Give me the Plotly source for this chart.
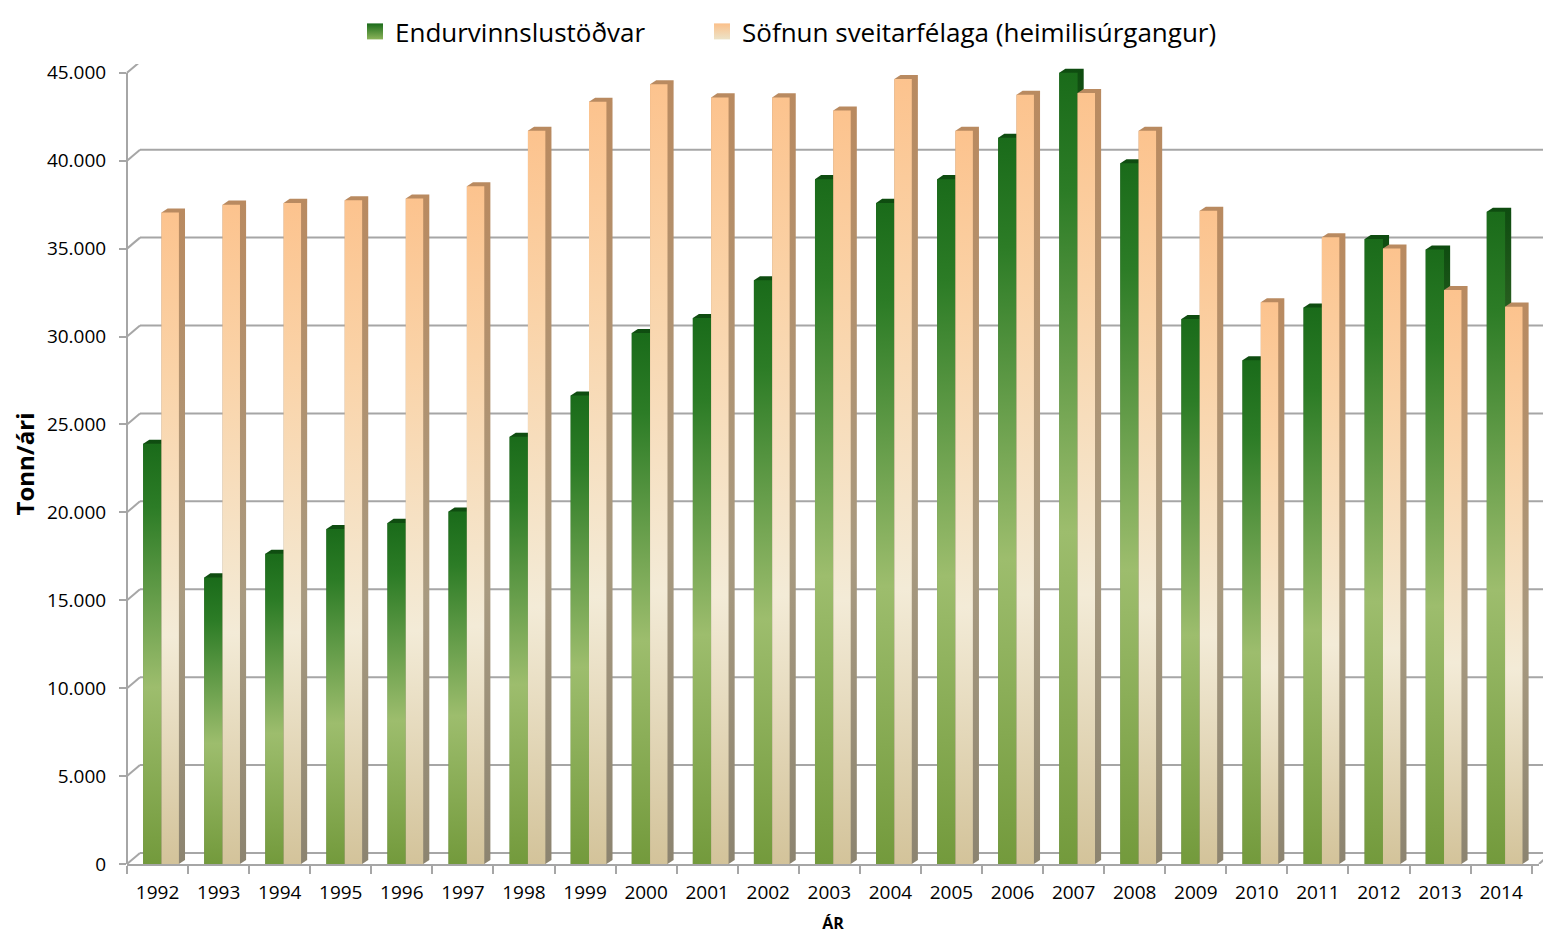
import plotly.graph_objects as go

years = [str(y) for y in range(1992, 2015)]
endurvinnslustodvar = [23900, 16300, 17650, 19050, 19400, 20050, 24300, 26650, 30200, 31050,
                       33200, 38950, 37600, 38950, 41300, 45000, 39850, 31000, 28650, 31650,
                       35550, 34950, 37100]
sofnun = [37050, 37500, 37600, 37750, 37850, 38550, 41700, 43350, 44350, 43600,
          43600, 42850, 44650, 41700, 43750, 43850, 41700, 37150, 31950, 35650,
          35000, 32650, 31700]
series_names = ["Endurvinnslustöðvar", "Söfnun sveitarfélaga (heimilisúrgangur)"]
y_ticks = list(range(0, 45001, 5000))
y_ticktext = [f"{v:,}".replace(",", ".") for v in y_ticks]

# ---- styling ----
green_front = [[0, "#739a3c"], [0.42, "#9dbd6d"], [0.85, "#2c7c26"], [1, "#1a6b1a"]]
green_side = [[0, "#587a2c"], [0.42, "#6f9048"], [1, "#0e4c10"]]
orange_front = [[0, "#d3c39a"], [0.35, "#f3ebd7"], [0.75, "#fad3a8"], [1, "#fcc38e"]]
orange_side = [[0, "#8c8470"], [0.4, "#a89a80"], [1, "#b98a60"]]
grid_col = "#a6a6a6"

g0, g1, o1 = -0.235, 0.065, 0.35
dx, dy = 0.1, 230

W, H = 1543, 926            # page body has an 8px margin
ML, MR, MT, MB = 119, 12, 56, 70
PW, PH = W - ML - MR, H - MT - MB
Y_TOP = 45500               # small headroom so the tallest bar's top face is not clipped
PLOT_LEFT, PLOT_TOP = 8 + ML, 8 + MT
wall_dx, wall_dy = 13, 11   # 3D back-wall offset in pixels
wall_end = 1 + 12 / PW

fig = go.Figure()

# legend entries (gradient squares), each in its own legend for spacing
fig.add_trace(go.Scatter(x=[None], y=[None], mode="markers", name=series_names[0],
                         legend="legend",
                         marker=dict(symbol="square", size=16, color="#1a6b1a",
                                     gradient=dict(type="vertical", color="#8cb45a"))))
fig.add_trace(go.Scatter(x=[None], y=[None], mode="markers", name=series_names[1],
                         legend="legend2",
                         marker=dict(symbol="square", size=16, color="#fbc08a",
                                     gradient=dict(type="vertical", color="#ece3c8"))))


def add_bar(xc, left, right, val, front_cs, side_cs, name):
    x0, x1 = xc + left, xc + right
    # side + top shell
    fig.add_trace(go.Scatter(
        x=[x0, x0 + dx, x1 + dx, x1 + dx, x1, x0, x0],
        y=[val, val + dy, val + dy, dy, 0, 0, val],
        mode="none", fill="toself",
        fillgradient=dict(type="vertical", colorscale=side_cs),
        showlegend=False, hoverinfo="skip", cliponaxis=False))
    # front face
    fig.add_trace(go.Scatter(
        x=[x0, x1, x1, x0, x0], y=[0, 0, val, val, 0],
        mode="none", fill="toself",
        fillgradient=dict(type="vertical", colorscale=front_cs),
        name=name, showlegend=False, cliponaxis=False,
        hoveron="fills", text=f"{name}: {val}", hoverinfo="text"))


for i, yr in enumerate(years):
    add_bar(i, g0, g1, endurvinnslustodvar[i], green_front, green_side, series_names[0])
    add_bar(i, g1, o1, sofnun[i], orange_front, orange_side, series_names[1])

# 3D-style back-wall gridlines with slanted connectors
shapes = []
for v in y_ticks:
    shapes.append(dict(type="line", xref="paper", yref="y", ysizemode="pixel", yanchor=v,
                       x0=wall_dx / PW, x1=wall_end, y0=wall_dy, y1=wall_dy,
                       line=dict(color=grid_col, width=2), layer="below"))
    shapes.append(dict(type="line", xref="paper", yref="y", ysizemode="pixel", yanchor=v,
                       x0=0, x1=wall_dx / PW, y0=0, y1=wall_dy,
                       line=dict(color=grid_col, width=2), layer="below"))
shapes.append(dict(type="line", xref="paper", yref="y", ysizemode="pixel", yanchor=0,
                   x0=1, x1=wall_end, y0=0, y1=wall_dy,
                   line=dict(color=grid_col, width=2), layer="below"))
# front vertical axis line (0 .. 45.000 only)
shapes.append(dict(type="line", xref="paper", yref="y", x0=0, x1=0, y0=0, y1=y_ticks[-1],
                   line=dict(color=grid_col, width=2), layer="below"))

legend_common = dict(orientation="h", xanchor="left", yanchor="top", yref="container",
                     y=1.0, font=dict(size=26), itemwidth=30, borderwidth=0,
                     itemsizing="trace", bgcolor="rgba(0,0,0,0)")

fig.update_layout(
    width=W, height=H,
    paper_bgcolor="white", plot_bgcolor="white",
    margin=dict(l=ML, r=MR, t=MT, b=MB, autoexpand=False),
    font=dict(family="Open Sans", color="#000000"),
    shapes=shapes,
    legend=dict(x=(355 - PLOT_LEFT) / PW, **legend_common),
    legend2=dict(x=(702 - PLOT_LEFT) / PW, **legend_common),
    xaxis=dict(range=[-0.5, 22.62], tickvals=list(range(len(years))), ticktext=years,
               showgrid=False, zeroline=False, showline=True, linecolor=grid_col,
               linewidth=2, ticks="", tickfont=dict(size=19), automargin=False,
               ticklabelstandoff=10,
               minor=dict(tick0=-0.5, dtick=1, ticks="outside", ticklen=8,
                          tickcolor=grid_col, tickwidth=2, showgrid=False),
               title=dict(text="<b>ÁR</b>", font=dict(size=16), standoff=28),
               fixedrange=True),
    yaxis=dict(range=[0, Y_TOP], tickvals=y_ticks, ticktext=y_ticktext,
               showgrid=False, zeroline=False, showline=False, automargin=False,
               ticks="outside", ticklen=7, tickcolor=grid_col, tickwidth=2,
               tickfont=dict(size=19), ticklabelstandoff=9,
               title=dict(text="<b>Tonn/ári</b>", font=dict(size=24), standoff=6),
               fixedrange=True),
)

fig.write_html("out.html")
